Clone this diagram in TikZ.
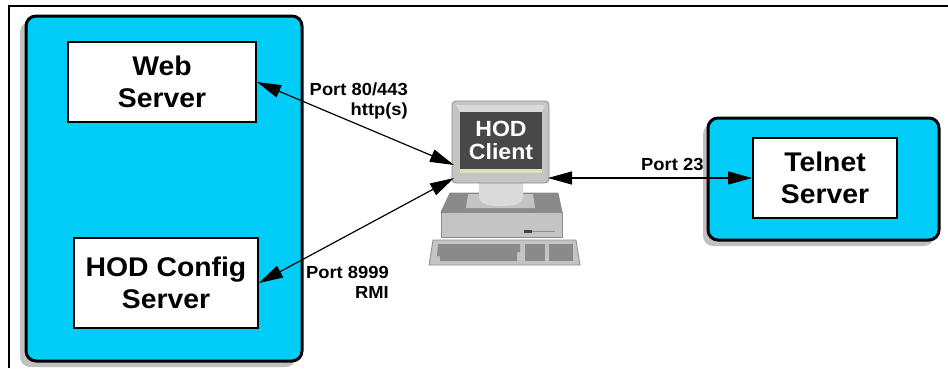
\documentclass[tikz,border=0pt]{standalone}
\usepackage{fontspec}
\setmainfont{Liberation Sans}[FakeStretch=1.05]
\usetikzlibrary{arrows.meta,calc}
\definecolor{hodcyan}{RGB}{0,204,248}
\definecolor{hodshadow}{RGB}{192,192,192}
\definecolor{pcbody}{RGB}{196,196,196}
\definecolor{pcedge}{RGB}{140,140,140}
\definecolor{pcdark}{RGB}{138,138,138}
\definecolor{pclight}{RGB}{218,218,218}
\definecolor{pcscreen}{RGB}{72,72,72}
\definecolor{pcstrip}{RGB}{222,222,184}
\begin{document}
\begin{tikzpicture}[x=1pt,y=-1pt,
  group/.style={draw=black,line width=3pt,fill=hodcyan,rounded corners=10pt},
  groupshadow/.style={fill=hodshadow,rounded corners=10pt},
  server/.style={draw=black,line width=2pt,fill=white,align=center,
    font=\fontsize{27}{32.5}\selectfont\bfseries,inner sep=0pt},
  port/.style={font=\fontsize{17.5}{20}\selectfont\bfseries,inner sep=0pt,align=right},
  link/.style={line width=1.2pt,
    {Triangle[length=24pt,width=13pt]}-{Triangle[length=24pt,width=13pt]}},
  part/.style={draw=pcedge,line width=0.8pt},
]
\useasboundingbox (0,0) rectangle (948,368);

% page frame (top and left rules)
\draw[line width=1.2pt] (9,368) -- (9,6) -- (948,6);

% server groups with drop shadows
\fill[groupshadow] (20,22) rectangle (296,367);
\draw[group] (26,16) rectangle (302,361);
\fill[groupshadow] (703,124) rectangle (934,246);
\draw[group] (708,118) rectangle (939,240);

% servers
\node[server,minimum width=188pt,minimum height=80pt] (web) at (162,82) {Web\\Server};
\node[server,minimum width=184pt,minimum height=90pt] (config) at (166,283) {HOD Config\\Server};
\node[server,minimum width=144pt,minimum height=80pt] (telnet) at (825,178) {Telnet\\Server};

% workstation: keyboard
\fill[pcbody,part] (433,240) -- (576,240) -- (580,265) -- (429,265) -- cycle;
\fill[pcdark] (438,244) -- (520,244) -- (520,252) -- (517,252) -- (517,261) -- (440,261) -- (440,256) -- (437,256) -- cycle;
\fill[pcdark] (525,244) rectangle (545,261);
\fill[pcdark] (549,244) rectangle (573,261);
% workstation: system unit
\fill[pcdark,part] (450,193) -- (558,193) -- (562,212) -- (441,212) -- cycle;
\fill[pcbody] (468,194) -- (533,194) -- (535,208) -- (466,208) -- cycle;
\fill[pcbody,part] (441,212) rectangle (562,237);
\fill[black!75] (524,230) rectangle (532,232.5);
\draw[pcedge,line width=1pt] (532,231.2) -- (555,231.2);
% workstation: monitor stand
\fill[pclight] (479,180) -- (523,180) -- (523,196) .. controls (523,204) and (515,206) .. (501,206)
  .. controls (487,206) and (479,204) .. (479,196) -- cycle;
% workstation: monitor
\node[part,fill=pcbody,rounded corners=4pt,minimum width=97pt,minimum height=82pt,inner sep=0pt]
  (monitor) at (500.5,142) {};
\fill[pclight] (456,105) -- (545,105) -- (542,112) -- (460,112) -- cycle;
\fill[pcstrip] (460,168) rectangle (542,173);
\node[fill=pcscreen,minimum width=82pt,minimum height=57pt,inner sep=0pt,align=center,
  text=white,font=\fontsize{22}{23}\selectfont\bfseries] (client) at (501,140) {HOD\\Client};

% connections
\coordinate (inA) at (454,165);
\coordinate (inB) at (454,178);
\coordinate (outC) at (548,178);
\draw[link] (web.east) -- (inA);
\draw[link] (config.east) -- (inB);
\draw[link] (outC) -- (telnet.west);

% port labels
\node[port,anchor=north east] (lblweb) at (408,83) {Port 80/443\\http(s)};
\node[port,anchor=north east] (lblcfg) at (389,266) {Port 8999\\RMI};
\node[port,anchor=base west] (lbltel) at (641,170) {Port 23};
\end{tikzpicture}
\end{document}
